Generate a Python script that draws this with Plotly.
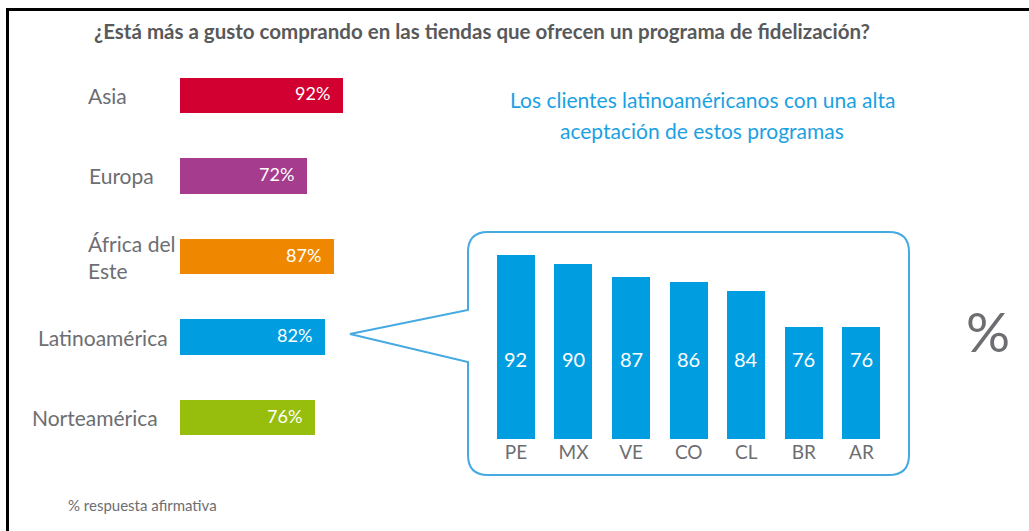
import plotly.graph_objects as go

# ---------------- data ----------------
regions = ["Asia", "Europa", "África del<br>Este", "Latinoamérica", "Norteamérica"]
region_values = [92, 72, 87, 82, 76]
region_colors = ["#d10030", "#a53c8d", "#ef8800", "#009ee0", "#97be0d"]

countries = ["PE", "MX", "VE", "CO", "CL", "BR", "AR"]
country_values = [92, 90, 87, 86, 84, 76, 76]

title_text = "¿Está más a gusto comprando en las tiendas que ofrecen un programa de fidelización?"
subtitle_lines = ["Los clientes latinoaméricanos con una alta", "aceptación de estos programas"]
footnote_text = "% respuesta afirmativa"
unit_text = "%"

# ---------------- style / layout helpers ----------------
W, H = 1029, 531
FONT = "Lato"
GRAY = "#6d6e71"
BLUE = "#009ee0"
LINE_BLUE = "#45a9e2"

def px(x):
    return x / W

def py(y):
    return 1 - y / H

label_left_px = [86, 87, 86, 36, 30]  # left edge of each region label

fig = go.Figure()

# left horizontal bars
fig.add_trace(go.Bar(
    x=region_values, y=regions, orientation="h",
    marker=dict(color=region_colors, line=dict(width=0)),
    width=0.44, xaxis="x", yaxis="y", hoverinfo="skip", showlegend=False,
))

# right vertical bars
fig.add_trace(go.Bar(
    x=countries, y=country_values,
    marker=dict(color=BLUE, line=dict(width=0)),
    width=0.66, xaxis="x2", yaxis="y2", hoverinfo="skip", showlegend=False,
))

annotations = []
# region labels
for name, lx in zip(regions, label_left_px):
    annotations.append(dict(
        x=px(lx), xref="paper", xanchor="left",
        y=name, yref="y", yanchor="middle",
        text=name, showarrow=False, align="left",
        font=dict(family=FONT, size=21, color=GRAY),
    ))
# value labels inside region bars
for name, v in zip(regions, region_values):
    annotations.append(dict(
        x=v, xref="x", xanchor="right", xshift=-11,
        y=name, yref="y", yanchor="middle", yshift=2,
        text=f"{v}%", showarrow=False,
        font=dict(family=FONT, size=18, color="white"),
    ))
# value labels inside country bars
for c, v in zip(countries, country_values):
    annotations.append(dict(
        x=c, xref="x2", xanchor="center",
        y=py(359), yref="paper", yanchor="middle",
        text=str(v), showarrow=False,
        font=dict(family=FONT, size=20, color="white"),
    ))
# title
annotations.append(dict(
    x=px(482), xref="paper", xanchor="center", y=py(31), yref="paper", yanchor="middle",
    text=f"<b>{title_text}</b>", showarrow=False,
    font=dict(family=FONT, size=20.5, color="#58595b"),
))
# subtitle
for line, yy in zip(subtitle_lines, [100, 130]):
    annotations.append(dict(
        x=px(702), xref="paper", xanchor="center", y=py(yy), yref="paper", yanchor="middle",
        text=line, showarrow=False,
        font=dict(family=FONT, size=21, color="#1ba1e2"),
    ))
# footnote
annotations.append(dict(
    x=px(66), xref="paper", xanchor="left", y=py(505), yref="paper", yanchor="middle",
    text=footnote_text, showarrow=False,
    font=dict(family=FONT, size=15, color=GRAY),
))
# big percent sign
annotations.append(dict(
    x=px(988), xref="paper", xanchor="center", y=py(331), yref="paper", yanchor="middle",
    text=unit_text, showarrow=False,
    font=dict(family=FONT, size=55, color=GRAY),
))

# callout shape (rounded box with pointer)
L, T, R, B, r = 468, 232, 909, 475, 20

def P(x, y):
    return f"{px(x):.5f},{py(y):.5f}"

path = (
    f"M{P(L,310)} L{P(L,T+r)} Q{P(L,T)} {P(L+r,T)} L{P(R-r,T)} Q{P(R,T)} {P(R,T+r)} "
    f"L{P(R,B-r)} Q{P(R,B)} {P(R-r,B)} L{P(L+r,B)} Q{P(L,B)} {P(L,B-r)} "
    f"L{P(L,362)} L{P(350,334)} Z"
)
shapes = [
    dict(type="path", xref="paper", yref="paper", path=path,
         line=dict(color=LINE_BLUE, width=2), fillcolor="rgba(0,0,0,0)", layer="below"),
    # frame lines
    dict(type="line", xref="paper", yref="paper", x0=px(6), x1=1, y0=py(9.5), y1=py(9.5),
         line=dict(color="black", width=3)),
    dict(type="line", xref="paper", yref="paper", x0=px(7.5), x1=px(7.5), y0=py(8), y1=0,
         line=dict(color="black", width=3)),
]

fig.update_layout(
    width=W, height=H,
    margin=dict(l=0, r=0, t=0, b=0),
    paper_bgcolor="white", plot_bgcolor="rgba(0,0,0,0)",
    font=dict(family=FONT, color=GRAY),
    bargap=0,
    xaxis=dict(domain=[px(180), px(357)], range=[0, 100], visible=False, fixedrange=True),
    yaxis=dict(domain=[py(458), py(55)], autorange="reversed", visible=False,
               categoryorder="array", categoryarray=regions, fixedrange=True),
    xaxis2=dict(domain=[px(487.2), px(890.3)], range=[-0.5, 6.5], anchor="y2",
                showgrid=False, zeroline=False, showline=False, ticks="",
                tickfont=dict(family=FONT, size=19, color=GRAY), fixedrange=True),
    yaxis2=dict(domain=[py(439), py(255)], range=[51, 92], anchor="x2", visible=False,
                fixedrange=True),
    annotations=annotations,
    shapes=shapes,
    showlegend=False,
)

fig.write_html(
    "out.html",
    config={"displayModeBar": False},
    post_script="document.body.style.margin='0';document.body.style.overflow='hidden';",
)
